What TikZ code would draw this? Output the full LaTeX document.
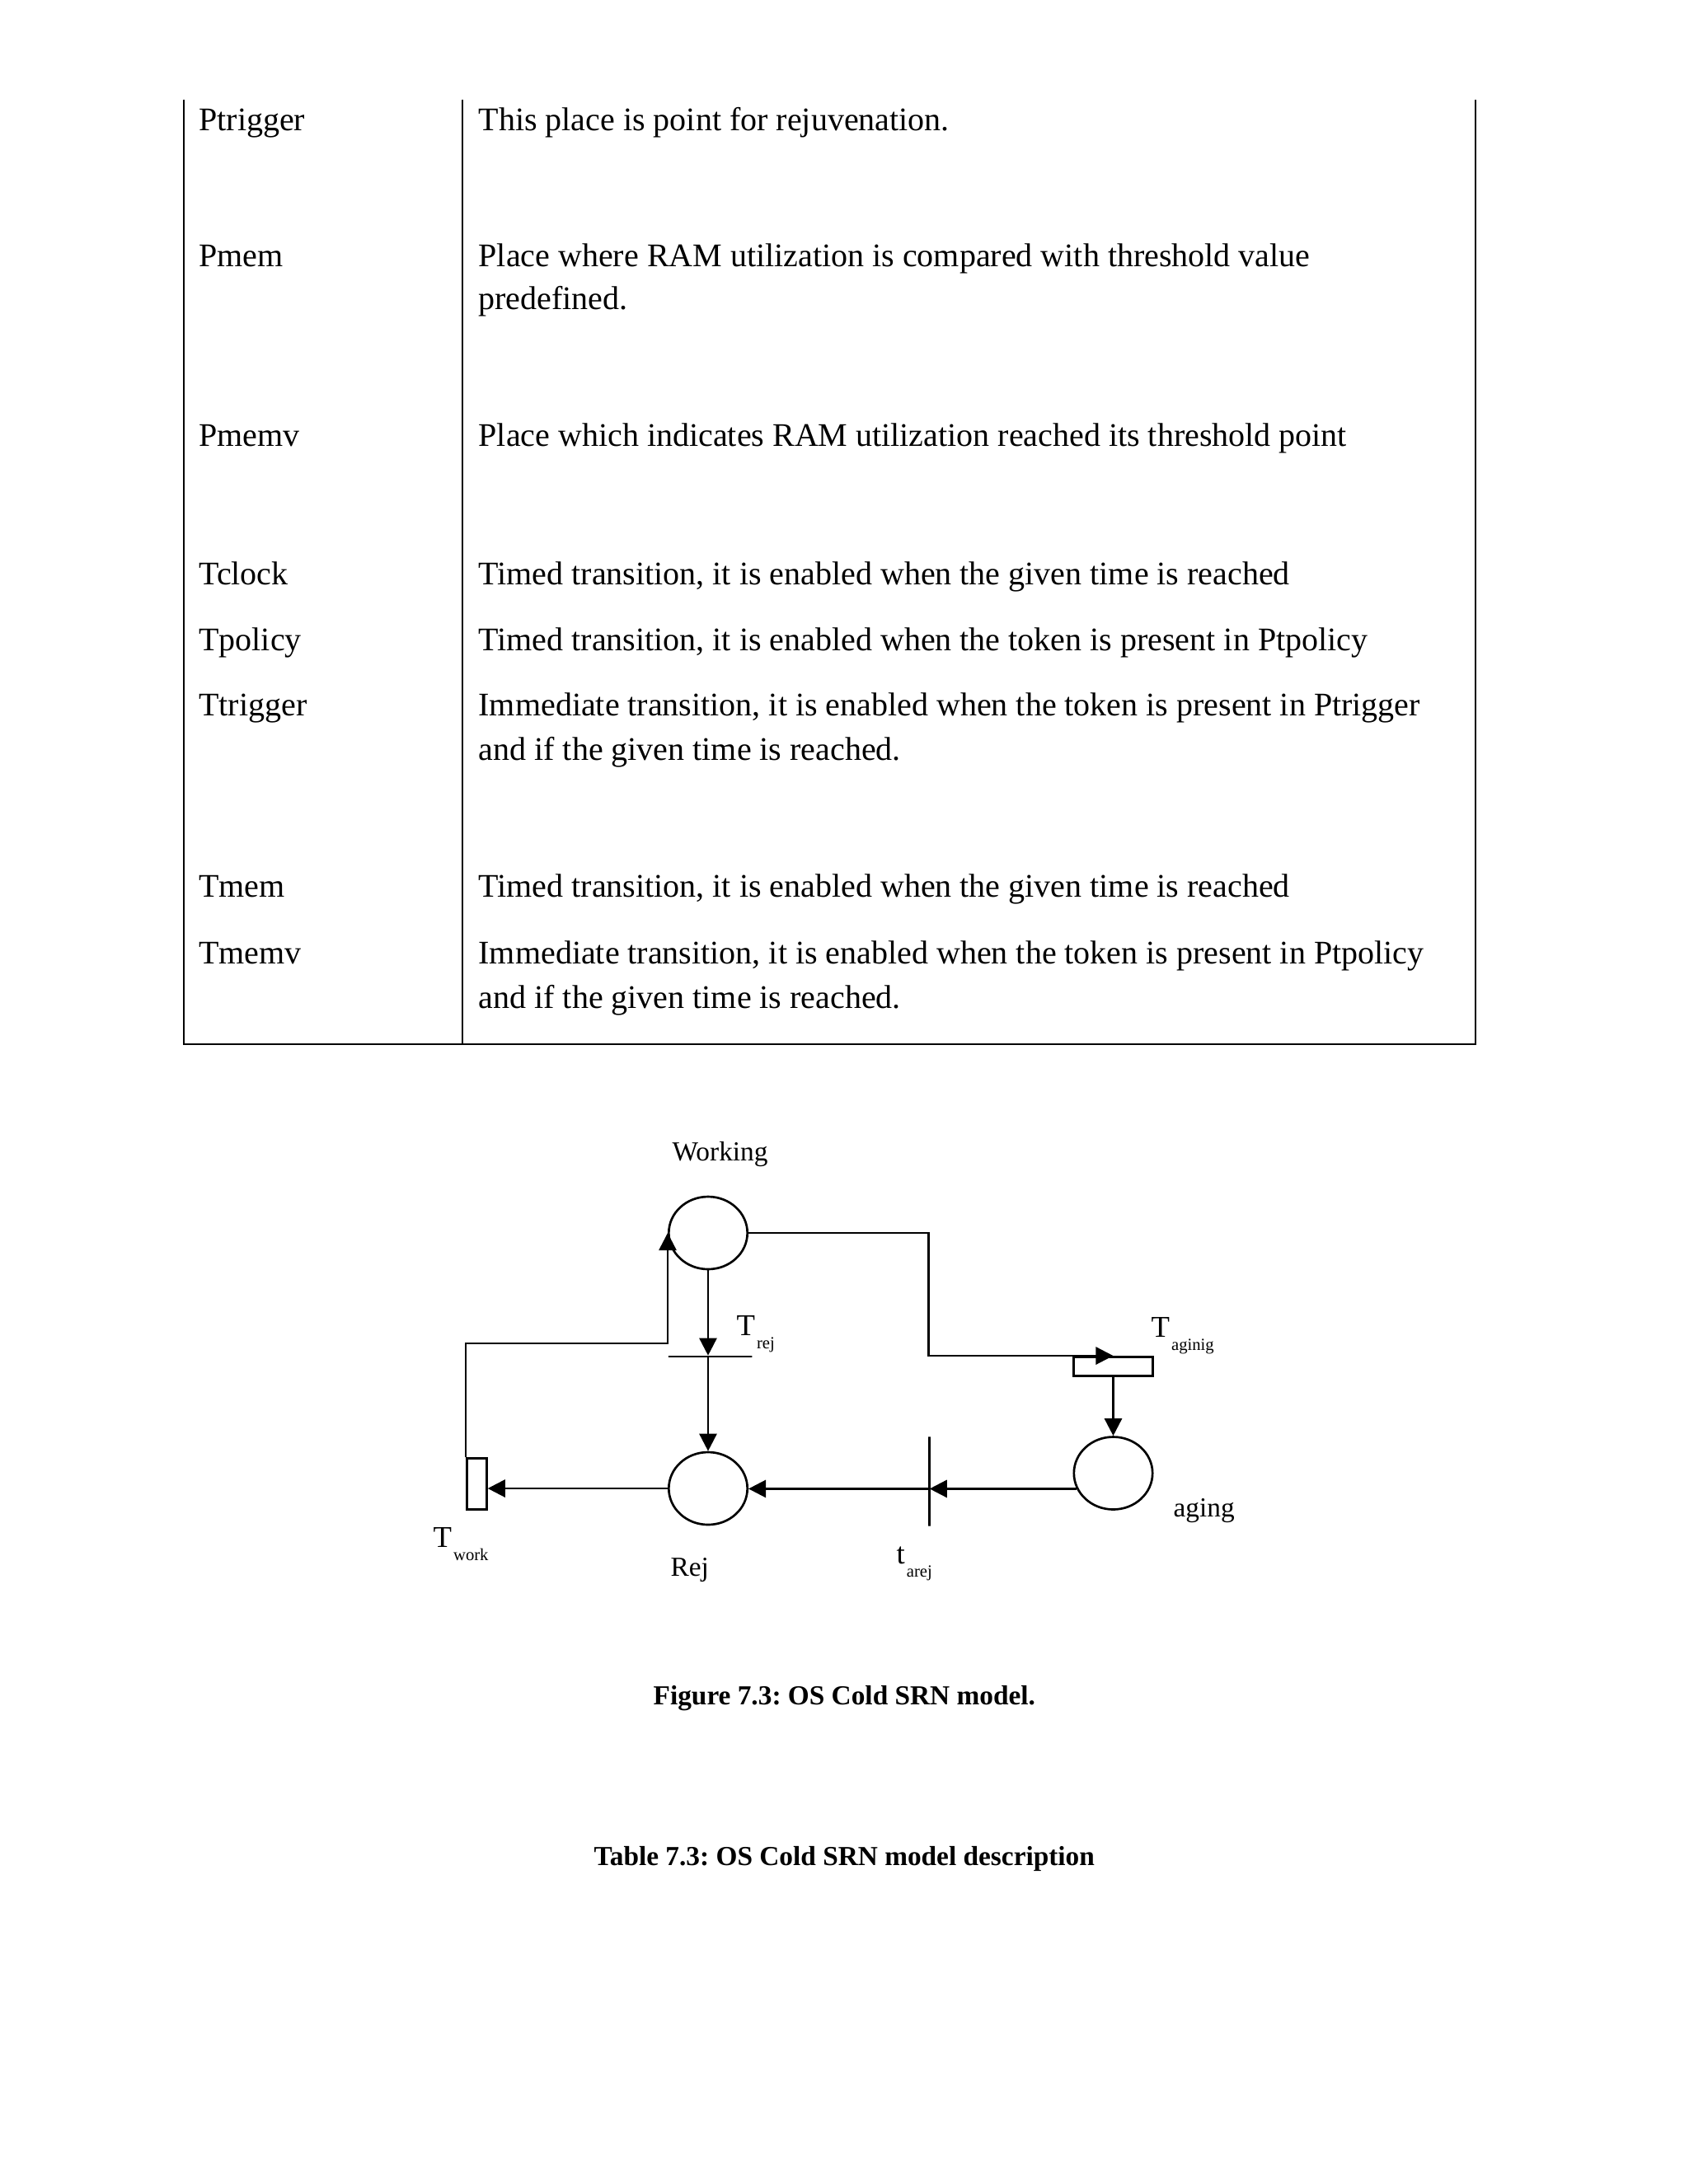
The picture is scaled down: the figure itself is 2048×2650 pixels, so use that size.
\documentclass[tikz,border=0pt]{standalone}
\usepackage{fontspec}
\setmainfont{Liberation Serif}
\usetikzlibrary{arrows.meta,positioning,shapes.geometric}
\frenchspacing

\newcommand{\trname}[2]{{\fontsize{11}{12}\selectfont #1}\kern0.6bp\raisebox{-4.8bp}{\fontsize{6.2}{7}\selectfont #2}}

\begin{document}
\begin{tikzpicture}[
    x=0.298828bp, y=-0.298828bp,
    cell/.style={anchor=base west, inner sep=0pt, font=\fontsize{12}{14}\selectfont},
    rule/.style={line width=0.6pt},
    place/.style={draw, ellipse, line width=0.8pt, inner sep=0pt,
    minimum width=28.5bp, minimum height=26.3bp},
    bar/.style={draw, rectangle, line width=0.8pt, inner sep=0pt},
    lbl/.style={anchor=base west, inner sep=0pt, font=\fontsize{10}{12}\selectfont},
    figcaption/.style={anchor=base west, inner sep=0pt, font=\fontsize{10}{12}\selectfont\bfseries},
    arc/.style={-{Triangle[length=6.3bp,width=6.3bp]}, line width=0.8pt}
]
\useasboundingbox (0,0) rectangle (2048,2650);

% table, continued from the page before
\draw[rule] (222.5,120.7) -- (222.5,1267) -- (1790,1267) -- (1790,120.7);
\draw[rule] (561,120.7) -- (561,1267);

\foreach \nm/\yy in {Ptrigger/158.3, Pmem/323, Pmemv/541.7, Tclock/709,
    Tpolicy/789.6, Ttrigger/868, Tmem/1088, Tmemv/1169}
    \node[cell] (l\nm) at (240.7,\yy) {\nm};

\node[cell] (dPtrigger) at (580,158.3) {This place is point for rejuvenation.};
\node[cell] (dPmem) at (580,323) {Place where RAM utilization is compared with threshold value};
\node[cell] (dPmemb) at (580,375) {predefined.};
\node[cell] (dPmemv) at (580,541.7) {Place which indicates RAM utilization reached its threshold point};
\node[cell] (dTclock) at (580,709) {Timed transition, it is enabled when the given time is reached};
\node[cell] (dTpolicy) at (580,789.6) {Timed transition, it is enabled when the token is present in Ptpolicy};
\node[cell] (dTtrigger) at (580,868) {Immediate transition, it is enabled when the token is present in Ptrigger};
\node[cell] (dTtriggerb) at (580,922.6) {and if the given time is reached.};
\node[cell] (dTmem) at (580,1088) {Timed transition, it is enabled when the given time is reached};
\node[cell] (dTmemv) at (580,1169) {Immediate transition, it is enabled when the token is present in Ptpolicy};
\node[cell] (dTmemvb) at (580,1223.4) {and if the given time is reached.};

% SRN model
\node[place] (working) at (859,1496) {};
\node[place] (rej) at (859,1806) {};
\node[place] (aging) at (1350.5,1787.5) {};
\node[bar, minimum width=30.3bp, minimum height=0pt] (trej) at (861.6,1646) {};
\node[bar, minimum width=28.6bp, minimum height=6.9bp] (taginig) at (1350.5,1657.9) {};
\node[bar, minimum width=0pt, minimum height=32.4bp] (tarej) at (1127.7,1797.5) {};
\node[bar, minimum width=7.2bp, minimum height=18.5bp] (twork) at (578.3,1800.7) {};
\coordinate (wbend) at (1126.7,1646);
\coordinate (wloop) at (811,1630);

\draw[arc] (working.south) -- (working.south |- trej.north);
\draw[arc] (working.south |- trej.south) -- (rej.north);
\draw[arc] (working.east) -| (wbend |- taginig.north) -- (taginig.north);
\draw[arc] (taginig.south) -- (aging.north);
\draw[arc] (aging.203) -- (aging.203 -| tarej);
\draw[arc] (aging.203 -| tarej) -- (aging.203 -| rej.east);
\draw[arc] (rej.west) -- (rej.west -| twork.east);
\draw[arc] (twork.north west) |- (working.west |- wloop) -- (working.west);

\node[lbl] (lworking) at (815,1408) {Working};
\node[lbl] (ltrej) at (893,1620.7) {\trname{T}{rej}};
\node[lbl] (ltaginig) at (1396,1622) {\trname{T}{aginig}};
\node[lbl] (laging) at (1423,1840) {aging};
\node[lbl] (ltwork) at (525,1877.3) {\trname{T}{work}};
\node[lbl] (lrej) at (813,1912.3) {Rej};
\node[lbl] (ltarej) at (1087,1897.3) {\trname{t}{arej}};

\node[figcaption] (figcap) at (792,2068) {Figure 7.3: OS Cold SRN model.};
\node[figcaption] (tabcap) at (720,2263) {Table 7.3: OS Cold SRN model description};
\end{tikzpicture}
\end{document}
